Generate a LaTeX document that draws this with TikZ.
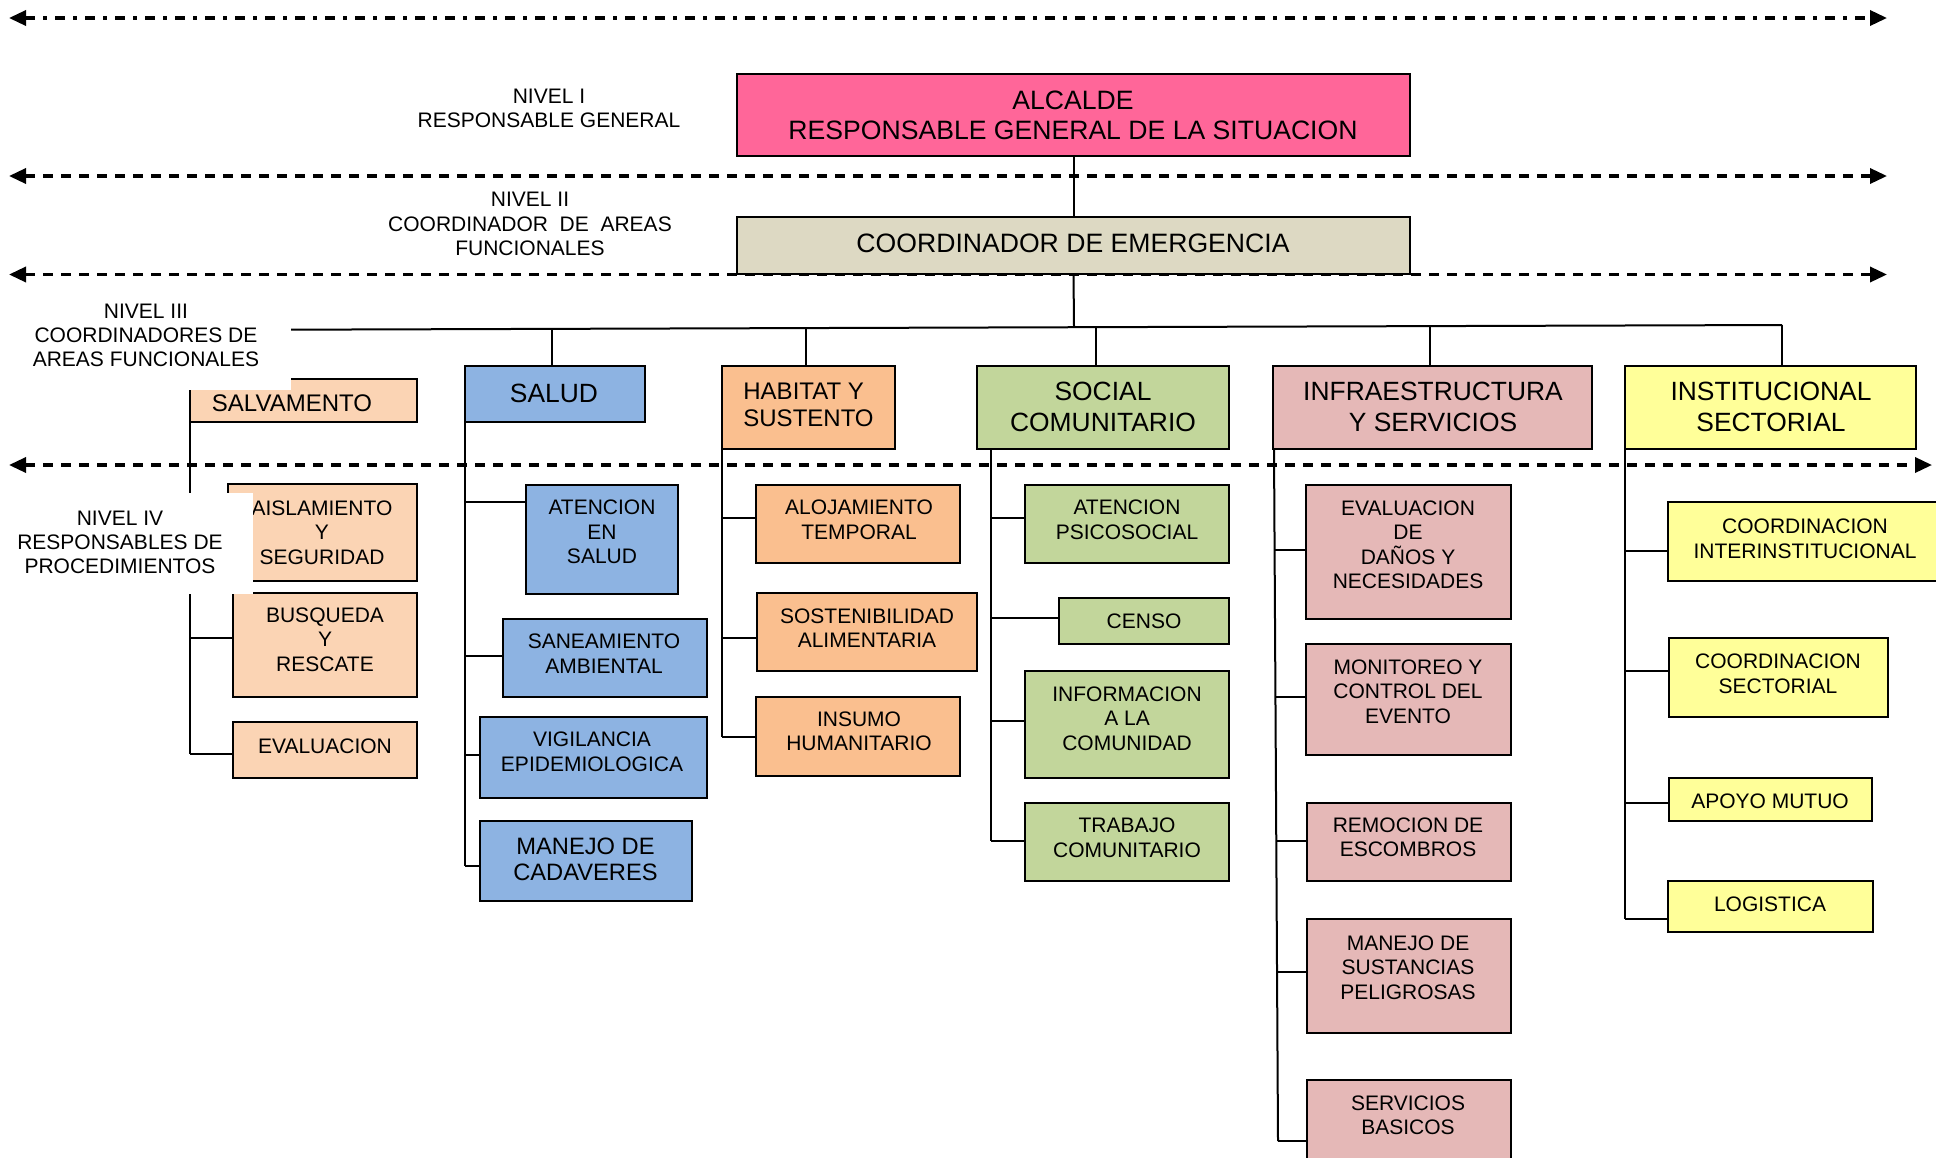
\documentclass[tikz,border=0pt]{standalone}
\usepackage{fontspec}
\setmainfont{Liberation Sans}
\usetikzlibrary{arrows.meta}
\definecolor{cAlc}{HTML}{FF6699}
\definecolor{cCoo}{HTML}{DDD9C3}
\definecolor{cSal}{HTML}{FBD4B4}
\definecolor{cSld}{HTML}{8DB3E2}
\definecolor{cHab}{HTML}{FABF8F}
\definecolor{cSoc}{HTML}{C2D69B}
\definecolor{cInf}{HTML}{E5B8B7}
\definecolor{cIns}{HTML}{FFFF99}
\tikzset{
  box/.style={draw=black, line width=1.2pt, inner sep=0pt, outer sep=0pt, rectangle},
  conn/.style={draw=black, line width=1pt},
  tTop/.style={inner sep=0pt, align=center, font={\fontsize{13.3pt}{15pt}\selectfont}},
  t3/.style={inner sep=0pt, align=center, font={\fontsize{13.2pt}{15.5pt}\selectfont}},
  t3s/.style={inner sep=0pt, align=center, font={\fontsize{12pt}{13.5pt}\selectfont}},
  t4/.style={inner sep=0pt, align=center, font={\fontsize{10.5pt}{12.25pt}\selectfont}},
  t4b/.style={inner sep=0pt, align=center, font={\fontsize{11.85pt}{13pt}\selectfont}},
  tniv/.style={inner sep=0pt, align=center, font={\fontsize{10.5pt}{12.1pt}\selectfont}},
  lvl/.style={line width=1.7pt, dash pattern=on 5pt off 4pt,
    {Triangle[length=8.5pt,width=7.5pt]}-{Triangle[length=8.5pt,width=7.5pt]}},
  lvldd/.style={line width=1.7pt, dash pattern=on 5pt off 4pt on 1.75pt off 4.25pt,
    {Triangle[length=8.5pt,width=7.5pt]}-{Triangle[length=8.5pt,width=7.5pt]}},
}
\newcommand\mybox[6]{%
  \pgfmathsetmacro\mbw{(#5-#3)*0.5}%
  \pgfmathsetmacro\mbh{(#6-#4)*0.5}%
  \node[box,#1,minimum width=\mbw pt,minimum height=\mbh pt] (#2) at ({(#3+#5)/2},{(#4+#6)/2}) {};}
\begin{document}
\begin{tikzpicture}[x=0.5pt,y=-0.5pt]
\useasboundingbox (0,0) rectangle (1936,1157);
\clip (0,0) rectangle (1936,1157);

% ---------- top boxes
\mybox{fill=cAlc,line width=1.4pt}{alc}{737}{74}{1410}{156}
\node[tTop] (alc-t) at (1073,115) {ALCALDE\\RESPONSABLE GENERAL DE LA SITUACION};
\mybox{fill=cCoo,line width=1.4pt}{coo}{737}{217}{1410}{274}
\node[tTop] (coo-t) at (1073,243) {COORDINADOR DE EMERGENCIA};

% ---------- level III
\mybox{fill=cSal}{salv}{190}{379}{417}{422}
\node[t3s] (salv-t) at (292,403) {SALVAMENTO};
\mybox{fill=cSld}{salud}{465}{366}{645}{422}
\node[t3] (salud-t) at (554,393) {SALUD};
\mybox{fill=cHab}{hab}{722}{366}{895}{449}
\node[t3s,align=left,anchor=west] (hab-t) at (743,404.5) {HABITAT Y\\SUSTENTO};
\mybox{fill=cSoc}{soc}{977}{366}{1229}{449}
\node[t3] (soc-t) at (1103,406.5) {SOCIAL\\COMUNITARIO};
\mybox{fill=cInf}{inf}{1273}{366}{1592}{449}
\node[t3] (inf-t) at (1433,407) {INFRAESTRUCTURA\\Y SERVICIOS};
\mybox{fill=cIns}{ins}{1625}{366}{1916}{449}
\node[t3] (ins-t) at (1771,407) {INSTITUCIONAL\\SECTORIAL};

% ---------- level IV : salvamento
\mybox{fill=cSal}{aisl}{228}{484}{417}{581}
\node[t4] (aisl-t) at (322,532.5) {AISLAMIENTO\\Y\\SEGURIDAD};
\mybox{fill=cSal}{busq}{233}{593}{417}{697}
\node[t4] (busq-t) at (325,639.5) {BUSQUEDA\\Y\\RESCATE};
\mybox{fill=cSal}{evs}{233}{722}{417}{778}
\node[t4] (evs-t) at (325,746) {EVALUACION};

% ---------- level IV : salud
\mybox{fill=cSld}{aten}{526}{485}{678}{594}
\node[t4] (aten-t) at (602,532) {ATENCION\\EN\\SALUD};
\mybox{fill=cSld}{sane}{503}{619}{707}{697}
\node[t4] (sane-t) at (604,653.5) {SANEAMIENTO\\AMBIENTAL};
\mybox{fill=cSld}{vigi}{480}{717}{707}{798}
\node[t4] (vigi-t) at (592,752) {VIGILANCIA\\EPIDEMIOLOGICA};
\mybox{fill=cSld}{manc}{480}{821}{692}{901}
\node[t4b] (manc-t) at (585.5,859) {MANEJO DE\\CADAVERES};

% ---------- level IV : habitat
\mybox{fill=cHab}{aloj}{756}{485}{960}{563}
\node[t4] (aloj-t) at (859,520) {ALOJAMIENTO\\TEMPORAL};
\mybox{fill=cHab}{sost}{757}{593}{977}{671}
\node[t4] (sost-t) at (867,628) {SOSTENIBILIDAD\\ALIMENTARIA};
\mybox{fill=cHab}{insu}{756}{697}{960}{776}
\node[t4] (insu-t) at (859,731.5) {INSUMO\\HUMANITARIO};

% ---------- level IV : social
\mybox{fill=cSoc}{psic}{1025}{485}{1229}{563}
\node[t4] (psic-t) at (1127,520) {ATENCION\\PSICOSOCIAL};
\mybox{fill=cSoc}{cens}{1059}{598}{1229}{644}
\node[t4] (cens-t) at (1144,621) {CENSO};
\mybox{fill=cSoc}{info}{1025}{671}{1229}{778}
\node[t4] (info-t) at (1127,718.5) {INFORMACION\\A LA\\COMUNIDAD};
\mybox{fill=cSoc}{trab}{1025}{803}{1229}{881}
\node[t4] (trab-t) at (1127,838) {TRABAJO\\COMUNITARIO};

% ---------- level IV : infraestructura
\mybox{fill=cInf}{evd}{1306}{485}{1511}{619}
\node[t4] (evd-t) at (1408,545) {EVALUACION\\DE\\DAÑOS Y\\NECESIDADES};
\mybox{fill=cInf}{moni}{1306}{644}{1511}{755}
\node[t4] (moni-t) at (1408,691.5) {MONITOREO Y\\CONTROL DEL\\EVENTO};
\mybox{fill=cInf}{remo}{1307}{803}{1511}{881}
\node[t4] (remo-t) at (1408,837.5) {REMOCION DE\\ESCOMBROS};
\mybox{fill=cInf}{mans}{1307}{919}{1511}{1033}
\node[t4] (mans-t) at (1408,967.5) {MANEJO DE\\SUSTANCIAS\\PELIGROSAS};
\mybox{fill=cInf}{serv}{1307}{1080}{1511}{1175}
\node[t4] (serv-t) at (1408,1115) {SERVICIOS\\BASICOS};

% ---------- level IV : institucional
\mybox{fill=cIns}{coi}{1668}{502}{1942}{581}
\node[t4] (coi-t) at (1805,539) {COORDINACION\\INTERINSTITUCIONAL};
\mybox{fill=cIns}{cos}{1669}{638}{1888}{717}
\node[t4] (cos-t) at (1778,674) {COORDINACION\\SECTORIAL};
\mybox{fill=cIns}{apo}{1669}{778}{1872}{821}
\node[t4] (apo-t) at (1770,801) {APOYO MUTUO};
\mybox{fill=cIns}{log}{1668}{881}{1873}{932}
\node[t4] (log-t) at (1770,904) {LOGISTICA};

% ---------- connectors
\coordinate (busS) at (190,330);
\coordinate (busE) at (1782,325);
\coordinate (bC) at (1074,327.2);
\coordinate (bSld) at (552,328.9);
\coordinate (bHab) at (806,328.1);
\coordinate (bSoc) at (1096,327.2);
\coordinate (bInf) at (1430,326.1);
\draw[conn] (alc.south) -- (coo.north);
\draw[conn] (coo.south) -- (bC);
\draw[conn] (busS) -- (busE);
\draw[conn] (bSld) -- (bSld |- salud.north);
\draw[conn] (bHab) -- (bHab |- hab.north);
\draw[conn] (bSoc) -- (bSoc |- soc.north);
\draw[conn] (bInf) -- (bInf |- inf.north);
\draw[conn] (busE) -- (busE |- ins.north);

% salvamento spine
\coordinate (sa1) at (190,532);
\coordinate (sa2) at (190,638);
\coordinate (sa3) at (190,754);
\draw[conn] (busS) -- (sa3);
\draw[conn] (sa1) -- (sa1 -| aisl.west);
\draw[conn] (sa2) -- (sa2 -| busq.west);
\draw[conn] (sa3) -- (sa3 -| evs.west);

% salud spine
\coordinate (sl1) at (465,502);
\coordinate (sl2) at (465,656);
\coordinate (sl3) at (465,755);
\coordinate (sl4) at (465,866);
\draw[conn] (salud.south west) -- (sl4);
\draw[conn] (sl1) -- (sl1 -| aten.west);
\draw[conn] (sl2) -- (sl2 -| sane.west);
\draw[conn] (sl3) -- (sl3 -| vigi.west);
\draw[conn] (sl4) -- (sl4 -| manc.west);

% habitat spine
\coordinate (hb1) at (722,518);
\coordinate (hb2) at (722,638);
\coordinate (hb3) at (722,737);
\draw[conn] (hab.south west) -- (hb3);
\draw[conn] (hb1) -- (hb1 -| aloj.west);
\draw[conn] (hb2) -- (hb2 -| sost.west);
\draw[conn] (hb3) -- (hb3 -| insu.west);

% social spine
\coordinate (so0) at (991,449);
\coordinate (so1) at (991,518);
\coordinate (so2) at (991,618);
\coordinate (so3) at (991,721);
\coordinate (so4) at (991,841);
\draw[conn] (so0) -- (so4);
\draw[conn] (so1) -- (so1 -| psic.west);
\draw[conn] (so2) -- (so2 -| cens.west);
\draw[conn] (so3) -- (so3 -| info.west);
\draw[conn] (so4) -- (so4 -| trab.west);

% infraestructura spine
\coordinate (in0) at (1274,449);
\coordinate (in1) at (1274.6,550);
\coordinate (in2) at (1275.4,697);
\coordinate (in3) at (1276.3,841);
\coordinate (in4) at (1277,972);
\coordinate (in5) at (1278,1141);
\draw[conn] (in0) -- (in5);
\draw[conn] (in1) -- (in1 -| evd.west);
\draw[conn] (in2) -- (in2 -| moni.west);
\draw[conn] (in3) -- (in3 -| remo.west);
\draw[conn] (in4) -- (in4 -| mans.west);
\draw[conn] (in5) -- (in5 -| serv.west);

% institucional spine
\coordinate (is1) at (1625,551);
\coordinate (is2) at (1625,671);
\coordinate (is3) at (1625,803);
\coordinate (is4) at (1625,919);
\draw[conn] (ins.south west) -- (is4);
\draw[conn] (is1) -- (is1 -| coi.west);
\draw[conn] (is2) -- (is2 -| cos.west);
\draw[conn] (is3) -- (is3 -| apo.west);
\draw[conn] (is4) -- (is4 -| log.west);

% ---------- level separators
\coordinate (l1a) at (9,18);    \coordinate (l1b) at (1887,18);
\coordinate (l2a) at (9,176);   \coordinate (l2b) at (1887,176);
\coordinate (l3a) at (9,274.5); \coordinate (l3b) at (1887,274.5);
\coordinate (l4a) at (9,465);   \coordinate (l4b) at (1932,465);
\draw[lvldd] (l1a) -- (l1b);
\draw[lvl] (l2a) -- (l2b);
\draw[lvl] (l3a) -- (l3b);
\draw[lvl] (l4a) -- (l4b);

% ---------- level labels
\node[tniv] (n1) at (549,108) {NIVEL I\\RESPONSABLE GENERAL};
\node[tniv] (n2) at (530,224) {NIVEL II\\COORDINADOR\ \ DE\ \ AREAS\\FUNCIONALES};
\mybox{draw=none,fill=white}{n3box}{4}{292}{291}{390}
\node[tniv] (n3) at (146,335.5) {NIVEL III\\COORDINADORES DE\\AREAS FUNCIONALES};
\mybox{draw=none,fill=white}{n4box}{4}{493}{253}{594}
\node[tniv] (n4) at (120,542.5) {NIVEL IV\\RESPONSABLES DE\\PROCEDIMIENTOS};
\end{tikzpicture}
\end{document}
